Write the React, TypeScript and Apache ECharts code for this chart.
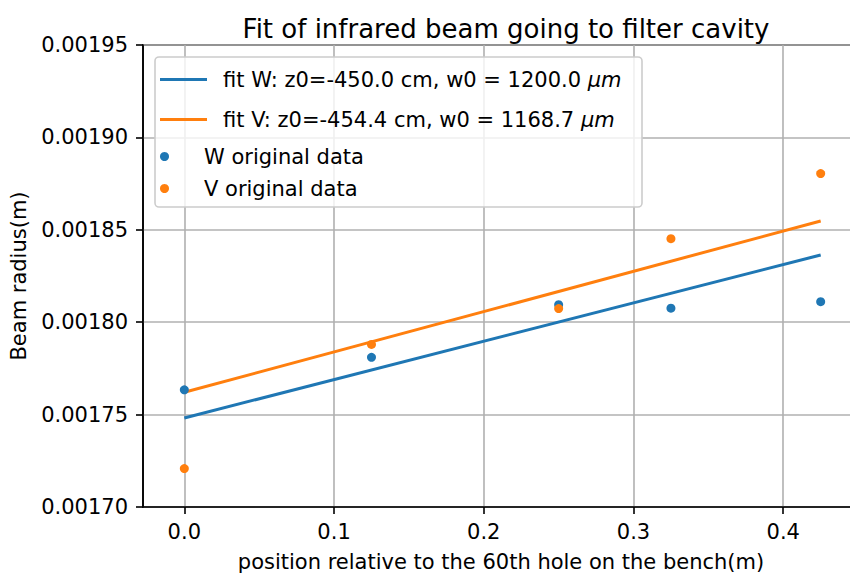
import React, { useEffect, useRef } from "react";
import * as echarts from "echarts";

const xData = [0, 0.125, 0.25, 0.325, 0.425];
const wData = [0.0017634, 0.001781, 0.0018095, 0.0018076, 0.0018111];
const vData = [0.0017208, 0.001788, 0.0018074, 0.0018452, 0.0018804];
const fitX = [0, 0.425];
const fitW = [0.0017482, 0.0018364];
const fitV = [0.0017621, 0.0018548];
const xTicks = [0, 0.1, 0.2, 0.3, 0.4];

const nameFitW = "fit W: z0=-450.0 cm, w0 = 1200.0 μm";
const nameFitV = "fit V: z0=-454.4 cm, w0 = 1168.7 μm";
const nameW = "W original data";
const nameV = "V original data";

const BLUE = "#1f77b4";
const ORANGE = "#ff7f0e";
const FONT = "DejaVu Sans";
const FS = 21;

export default function App() {
  const ref = useRef<HTMLDivElement>(null);
  useEffect(() => {
    if (!ref.current) return;
    const chart = echarts.init(ref.current, undefined, { renderer: "svg" });
    const legendText = {
      fontFamily: FONT,
      fontSize: FS,
      color: "#000",
      lineHeight: 23,
      padding: [0, 0, 0, 11],
      rich: {
        i: { fontFamily: FONT, fontSize: FS, fontStyle: "italic", color: "#000", lineHeight: 23 },
      },
    };
    const fmt = (n: string) => n.replace("μm", "{i|μm}");
    const mkLegend = (name: string, top: number, icon: string, h: number) => ({
      data: [name],
      left: 160,
      top,
      orient: "vertical",
      padding: 0,
      icon,
      itemWidth: 47,
      itemHeight: h,
      selectedMode: false,
      formatter: fmt,
      textStyle: legendText,
      z: 10,
    });
    chart.setOption({
      animation: false,
      backgroundColor: "#fff",
      title: {
        text: "Fit of infrared beam going to filter cavity",
        left: 501,
        textAlign: "center",
        top: 11,
        textStyle: { fontFamily: FONT, fontSize: 26, fontWeight: "normal", color: "#000" },
      },
      grid: {
        left: 143,
        top: 45,
        right: 1,
        bottom: 64,
        show: true,
        borderColor: "#000",
        borderWidth: 1.6,
        backgroundColor: "transparent",
      },
      legend: [
        mkLegend(nameFitW, 68, "rect", 3),
        mkLegend(nameFitV, 108, "rect", 3),
        mkLegend(nameW, 145, "circle", 9),
        mkLegend(nameV, 177, "circle", 9),
      ],
      graphic: [
        {
          type: "rect",
          shape: { x: 155, y: 57, width: 487, height: 150, r: 4 },
          style: { fill: "rgba(255,255,255,0.8)", stroke: "#cccccc", lineWidth: 1.6 },
          z: 5,
        },
      ],
      xAxis: {
        type: "value",
        min: -0.0276,
        max: 0.4506,
        name: "position relative to the 60th hole on the bench(m)",
        nameLocation: "middle",
        nameGap: 44,
        nameTextStyle: { fontFamily: FONT, fontSize: FS, color: "#000" },
        axisLine: { show: true, onZero: false, lineStyle: { color: "#000", width: 1.6 } },
        axisTick: { show: true, length: 7, customValues: xTicks, lineStyle: { color: "#000", width: 1.6 } },
        axisLabel: {
          customValues: xTicks,
          margin: 14,
          fontFamily: FONT,
          fontSize: FS,
          color: "#000",
          formatter: (v: number) => v.toFixed(1),
        },
        splitLine: { show: true, lineStyle: { color: "#b0b0b0", width: 1.6 } },
      },
      yAxis: {
        type: "value",
        min: 0.0017,
        max: 0.00195,
        interval: 0.00005,
        name: "Beam radius(m)",
        nameLocation: "middle",
        nameGap: 114,
        nameTextStyle: { fontFamily: FONT, fontSize: FS, color: "#000" },
        axisLine: { show: true, onZero: false, lineStyle: { color: "#000", width: 1.6 } },
        axisTick: { show: true, length: 7, lineStyle: { color: "#000", width: 1.6 } },
        axisLabel: {
          margin: 15,
          fontFamily: FONT,
          fontSize: FS,
          color: "#000",
          formatter: (v: number) => v.toFixed(5),
        },
        splitLine: { show: true, lineStyle: { color: "#b0b0b0", width: 1.6 } },
      },
      series: [
        {
          name: nameFitW,
          type: "line",
          data: fitX.map((x, i) => [x, fitW[i]]),
          showSymbol: false,
          symbol: "none",
          color: BLUE,
          lineStyle: { color: BLUE, width: 3 },
          z: 2,
        },
        {
          name: nameFitV,
          type: "line",
          data: fitX.map((x, i) => [x, fitV[i]]),
          showSymbol: false,
          symbol: "none",
          color: ORANGE,
          lineStyle: { color: ORANGE, width: 3 },
          z: 2,
        },
        {
          name: nameW,
          type: "scatter",
          data: xData.map((x, i) => [x, wData[i]]),
          symbolSize: 9,
          itemStyle: { color: BLUE, opacity: 1 },
          z: 3,
        },
        {
          name: nameV,
          type: "scatter",
          data: xData.map((x, i) => [x, vData[i]]),
          symbolSize: 9,
          itemStyle: { color: ORANGE, opacity: 1 },
          z: 3,
        },
      ],
    });
    return () => chart.dispose();
  }, []);
  return (
    <div
      ref={ref}
      style={{ position: "fixed", left: 0, top: 0, width: 860, height: 577 }}
    />
  );
}
